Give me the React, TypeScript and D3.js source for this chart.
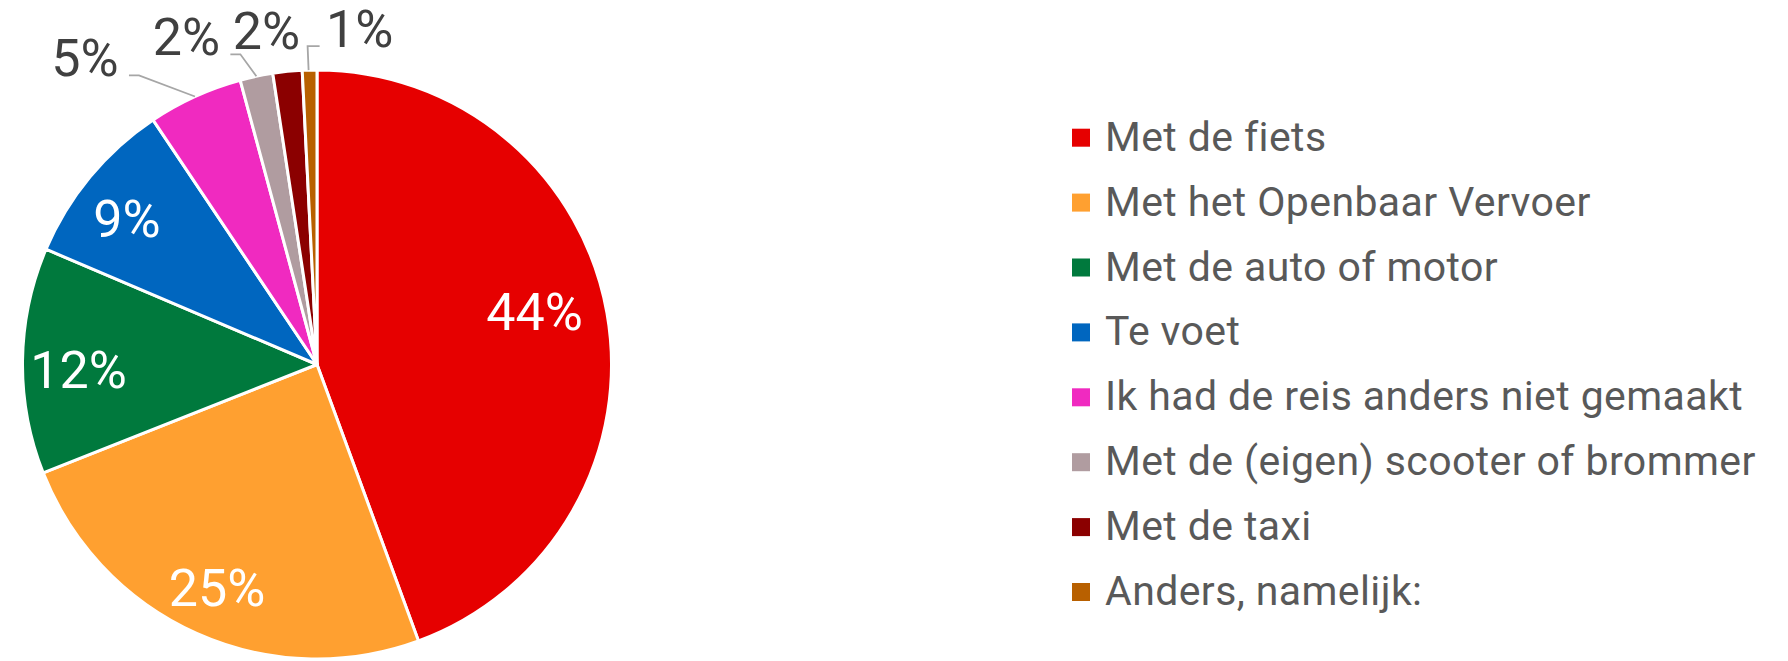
import React from "react";
import * as d3 from "d3";

const categories = [
  "Met de fiets",
  "Met het Openbaar Vervoer",
  "Met de auto of motor",
  "Te voet",
  "Ik had de reis anders niet gemaakt",
  "Met de (eigen) scooter of brommer",
  "Met de taxi",
  "Anders, namelijk:",
];
const values = [44.4, 24.6, 12.4, 9.2, 5.2, 1.8, 1.6, 0.8];
const colors = ["#E60000", "#FFA030", "#00793D", "#0066BF", "#F02AC0", "#B09CA0", "#8B0000", "#B86000"];

// layout constants for label placement
const INNER = new Set([0, 1, 2, 3]);
const innerRadiusFrac: Record<number, number> = { 0: 0.76, 1: 0.83, 2: 0.81, 3: 0.815 };
const innerAngleShift: Record<number, number> = { 0: -3.5, 1: 0, 2: -2, 3: -2 };
const outerOffset: Record<number, [number, number, string]> = {
  4: [-110, -20, "right"],
  5: [-70, -21, "right"],
  6: [-21, -23, "none"],
  7: [50, -23, "left"],
};

const W = 1788;
const H = 661;
const CX = 317;
const CY = 364.5;
const R = 294.5;
const LABEL_FONT = 52;

export default function App() {
  const pie = d3.pie<number>().sort(null).value((d) => d);
  const arcs = pie(values);
  const arcGen = d3.arc<d3.PieArcDatum<number>>().innerRadius(0).outerRadius(R);
  const total = d3.sum(values);

  const legendScale = d3.scaleBand<number>().domain(d3.range(categories.length)).range([105.5, 105.5 + 64.9 * 8]);

  const pt = (ang: number, r: number): [number, number] => [Math.sin(ang) * r, -Math.cos(ang) * r];

  return (
    <svg width={W} height={H} style={{ position: "absolute", left: 0, top: 0, fontFamily: "Roboto, sans-serif" }}>
      <rect width={W} height={H} fill="#fff" />
      <g transform={`translate(${CX},${CY})`}>
        {arcs.map((a, i) => (
          <path key={i} d={arcGen(a) || ""} fill={colors[i]} stroke="#fff" strokeWidth={3} strokeLinejoin="round" />
        ))}
        {arcs.map((a, i) => {
          const label = `${Math.round((a.data / total) * 100)}%`;
          const mid = (a.startAngle + a.endAngle) / 2;
          if (INNER.has(i)) {
            const ang = mid + (innerAngleShift[i] * Math.PI) / 180;
            const [x, y] = pt(ang, R * innerRadiusFrac[i]);
            return (
              <text key={"l" + i} x={x} y={y + LABEL_FONT * 0.355} textAnchor="middle" fill="#fff" fontSize={LABEL_FONT}>
                {label}
              </text>
            );
          }
          const [ex, ey] = pt(mid, R);
          const [dx, dy, kind] = outerOffset[i];
          const tx = ex + dx;
          const ty = ey + dy;
          const hw = 34;
          let line: string | null = null;
          if (kind === "right") {
            line = `M${ex},${ey}L${tx + hw + 20},${ty - 1}L${tx + hw + 10},${ty - 1}`;
          } else if (kind === "left") {
            line = `M${ex - 1},${ey}L${ex - 2},${ty - 1}L${tx - hw - 6},${ty - 1}`;
          }
          return (
            <g key={"l" + i}>
              {line && <path d={line} fill="none" stroke="#A6A6A6" strokeWidth={1.8} />}
              <text x={tx} y={ty} textAnchor="middle" fill="#404040" fontSize={LABEL_FONT}>
                {label}
              </text>
            </g>
          );
        })}
      </g>
      <g>
        {categories.map((c, i) => {
          const y0 = legendScale(i)!;
          const baseline = y0 + 45.2;
          return (
            <g key={c}>
              <rect x={1072} y={baseline - 22} width={18} height={18} fill={colors[i]} />
              <text x={1105} y={baseline} fontSize={41} letterSpacing={0.4} fill="#595959">
                {c}
              </text>
            </g>
          );
        })}
      </g>
    </svg>
  );
}
